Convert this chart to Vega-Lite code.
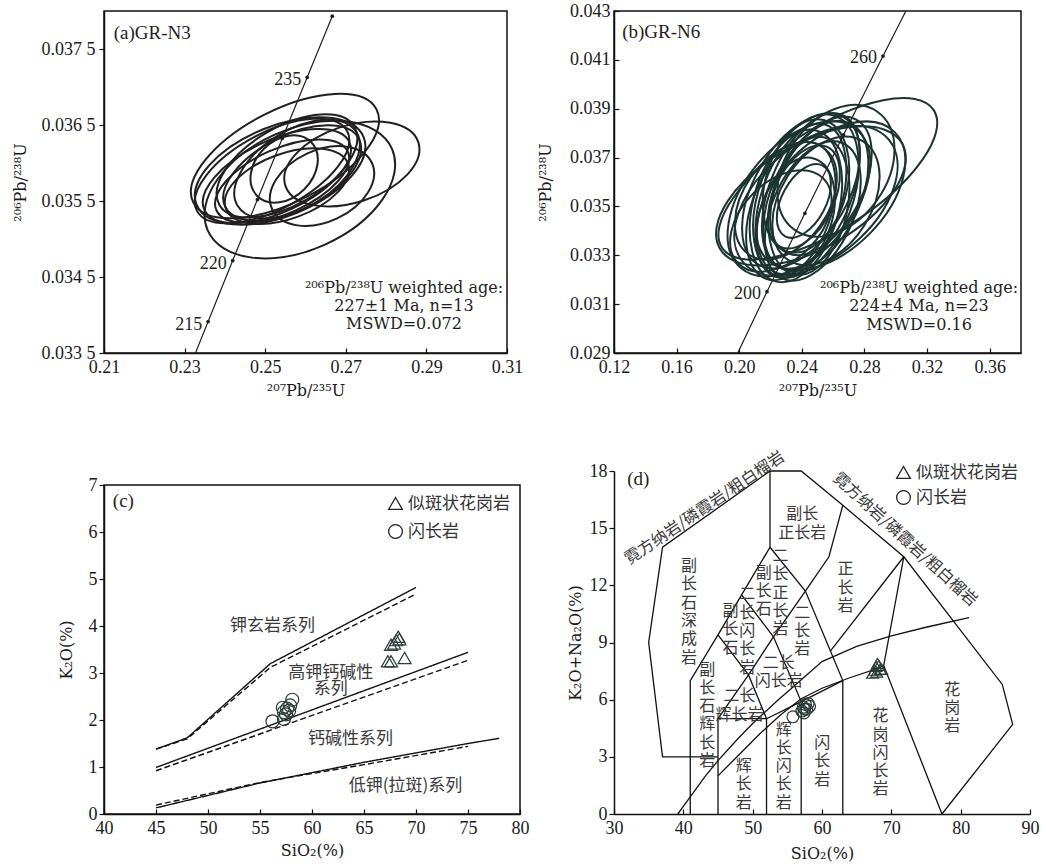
{
"$schema": "https://vega.github.io/schema/vega-lite/v6.json",
"background": "white",
"padding": {"left": 11, "top": 1, "right": 5, "bottom": 5},
"spacing": 6,
"config": {
  "font": "Liberation Serif",
  "view": {"stroke": "#111", "strokeWidth": 1.5},
  "axis": {"labelFont": "Liberation Serif", "titleFont": "Liberation Serif", "labelFontSize": 18, "titleFontSize": 18, "titleFontWeight": "normal", "labelColor": "#1a1a1a", "titleColor": "#1a1a1a", "domainColor": "#111", "domainWidth": 1.5, "tickColor": "#111", "tickWidth": 1.2, "grid": false, "labelFlush": false, "labelOverlap": false},
  "legend": {"title": null, "labelFont": "Noto Sans CJK SC", "labelFontSize": 17, "labelColor": "#333", "symbolStrokeWidth": 1.3, "symbolSize": 190, "rowPadding": 9, "padding": 0, "symbolStrokeColor": "#222", "symbolFillColor": "transparent"}
},
"datasets": {
  "ellA": [
    {"x":0.2549,"y":0.036092,"w":0.0510,"r":"0.45","tilt":-27},
    {"x":0.2715,"y":0.035987,"w":0.0347,"r":"0.55","tilt":-18},
    {"x":0.2586,"y":0.035650,"w":0.0500,"r":"0.60","tilt":-24},
    {"x":0.2517,"y":0.035895,"w":0.0422,"r":"0.45","tilt":-28},
    {"x":0.2529,"y":0.035829,"w":0.0397,"r":"0.45","tilt":-25},
    {"x":0.2554,"y":0.035961,"w":0.0387,"r":"0.50","tilt":-30},
    {"x":0.2567,"y":0.035868,"w":0.0372,"r":"0.50","tilt":-27},
    {"x":0.2542,"y":0.035763,"w":0.0357,"r":"0.45","tilt":-24},
    {"x":0.2579,"y":0.035921,"w":0.0347,"r":"0.55","tilt":-32},
    {"x":0.2537,"y":0.035895,"w":0.0447,"r":"0.50","tilt":-22},
    {"x":0.2554,"y":0.035697,"w":0.0323,"r":"0.50","tilt":-20},
    {"x":0.2547,"y":0.035921,"w":0.0189,"r":"0.75","tilt":-45},
    {"x":0.2641,"y":0.035697,"w":0.0273,"r":"0.65","tilt":-25}
  ],
  "ellB": [
    {"x":0.2566,"y":0.036129,"w":0.1613,"r":"0.40","tilt":-33},
    {"x":0.2458,"y":0.035431,"w":0.1344,"r":"0.50","tilt":-30},
    {"x":0.2490,"y":0.035226,"w":0.1216,"r":"0.60","tilt":-40},
    {"x":0.2586,"y":0.035431,"w":0.1152,"r":"0.60","tilt":-45},
    {"x":0.2426,"y":0.035431,"w":0.1088,"r":"0.55","tilt":-70},
    {"x":0.2394,"y":0.035226,"w":0.1024,"r":"0.50","tilt":-72},
    {"x":0.2458,"y":0.035637,"w":0.1050,"r":"0.50","tilt":-68},
    {"x":0.2362,"y":0.035020,"w":0.0998,"r":"0.55","tilt":-75},
    {"x":0.2490,"y":0.035431,"w":0.1024,"r":"0.55","tilt":-65},
    {"x":0.2330,"y":0.034815,"w":0.0922,"r":"0.55","tilt":-70},
    {"x":0.2522,"y":0.035842,"w":0.0960,"r":"0.55","tilt":-62},
    {"x":0.2394,"y":0.035637,"w":0.1088,"r":"0.55","tilt":-60},
    {"x":0.2445,"y":0.035020,"w":0.0896,"r":"0.55","tilt":-78},
    {"x":0.2298,"y":0.035226,"w":0.0832,"r":"0.65","tilt":-55},
    {"x":0.2554,"y":0.035226,"w":0.0896,"r":"0.65","tilt":-58},
    {"x":0.2362,"y":0.034610,"w":0.0768,"r":"0.60","tilt":-72},
    {"x":0.2426,"y":0.035842,"w":0.0870,"r":"0.60","tilt":-75},
    {"x":0.2470,"y":0.034815,"w":0.0947,"r":"0.55","tilt":-66},
    {"x":0.2381,"y":0.035308,"w":0.1152,"r":"0.60","tilt":-50},
    {"x":0.2413,"y":0.035226,"w":0.0512,"r":"0.55","tilt":-62},
    {"x":0.2413,"y":0.035390,"w":0.0704,"r":"0.55","tilt":-65},
    {"x":0.2618,"y":0.036458,"w":0.0922,"r":"0.70","tilt":-55},
    {"x":0.2266,"y":0.034404,"w":0.0768,"r":"0.65","tilt":-45}
  ],
  "conA": [
    {"age":212,"x":0.23219,"y":0.033433,"dot":false,"lab":""},
    {"age":215,"x":0.23584,"y":0.033914,"dot":true,"lab":"215"},
    {"age":220,"x":0.24194,"y":0.034717,"dot":true,"lab":"220"},
    {"age":225,"x":0.24807,"y":0.035519,"dot":true,"lab":""},
    {"age":230,"x":0.25423,"y":0.036323,"dot":true,"lab":""},
    {"age":235,"x":0.26042,"y":0.037127,"dot":true,"lab":"235"},
    {"age":240,"x":0.26664,"y":0.037932,"dot":true,"lab":""}
  ],
  "conB": [
    {"age":180,"x":0.19397,"y":0.028316,"dot":false,"lab":""},
    {"age":200,"x":0.21771,"y":0.031511,"dot":true,"lab":"200"},
    {"age":220,"x":0.24194,"y":0.034717,"dot":true,"lab":""},
    {"age":240,"x":0.26664,"y":0.037932,"dot":true,"lab":""},
    {"age":260,"x":0.29184,"y":0.041157,"dot":true,"lab":"260"},
    {"age":280,"x":0.31754,"y":0.044392,"dot":false,"lab":""}
  ],
  "annA": [
    {"x":0.28444,"y":0.034355,"t":"²⁰⁶Pb/²³⁸U weighted age:"},
    {"x":0.28444,"y":0.034118,"t":"227±1 Ma, n=13"},
    {"x":0.28444,"y":0.033882,"t":"MSWD=0.072"}
  ],
  "annB": [
    {"x":0.31488,"y":0.031641,"t":"²⁰⁶Pb/²³⁸U weighted age:"},
    {"x":0.31488,"y":0.030914,"t":"224±4 Ma, n=23"},
    {"x":0.31488,"y":0.030162,"t":"MSWD=0.16"}
  ],
  "linC": [
    {"g":"U","s":"solid","o":1,"x":45,"y":1.38},{"g":"U","s":"solid","o":2,"x":48,"y":1.62},{"g":"U","s":"solid","o":3,"x":56,"y":3.2},{"g":"U","s":"solid","o":4,"x":70,"y":4.82},
    {"g":"Ud","s":"dashed","o":1,"x":45,"y":1.38},{"g":"Ud","s":"dashed","o":2,"x":48,"y":1.6},{"g":"Ud","s":"dashed","o":3,"x":56,"y":3.12},{"g":"Ud","s":"dashed","o":4,"x":70,"y":4.68},
    {"g":"M","s":"solid","o":1,"x":45,"y":0.99},{"g":"M","s":"solid","o":2,"x":75,"y":3.44},
    {"g":"Md","s":"dashed","o":1,"x":45,"y":0.92},{"g":"Md","s":"dashed","o":2,"x":75,"y":3.27},
    {"g":"L","s":"solid","o":1,"x":45,"y":0.13},{"g":"L","s":"solid","o":2,"x":55,"y":0.66},{"g":"L","s":"solid","o":3,"x":65,"y":1.1},{"g":"L","s":"solid","o":4,"x":75,"y":1.5},{"g":"L","s":"solid","o":5,"x":78,"y":1.61},
    {"g":"Ld","s":"dashed","o":1,"x":45,"y":0.19},{"g":"Ld","s":"dashed","o":2,"x":55,"y":0.67},{"g":"Ld","s":"dashed","o":3,"x":65,"y":1.05},{"g":"Ld","s":"dashed","o":4,"x":75,"y":1.44}
  ],
  "labC": [
    {"x":56.2,"y":4.0,"t":"钾玄岩系列"},
    {"x":61.8,"y":3.0,"t":"高钾钙碱性"},
    {"x":61.8,"y":2.66,"t":"系列"},
    {"x":63.7,"y":1.6,"t":"钙碱性系列"},
    {"x":69.0,"y":0.6,"t":"低钾(拉斑)系列"}
  ],
  "ptsC": [
    {"x":67.3,"y":3.25,"rock":"似斑状花岗岩"},{"x":67.6,"y":3.25,"rock":"似斑状花岗岩"},{"x":67.6,"y":3.6,"rock":"似斑状花岗岩"},{"x":67.9,"y":3.63,"rock":"似斑状花岗岩"},
    {"x":68.1,"y":3.7,"rock":"似斑状花岗岩"},{"x":68.3,"y":3.77,"rock":"似斑状花岗岩"},{"x":68.4,"y":3.72,"rock":"似斑状花岗岩"},{"x":68.9,"y":3.32,"rock":"似斑状花岗岩"},
    {"x":56.2,"y":1.97,"rock":"闪长岩"},{"x":57.2,"y":2.26,"rock":"闪长岩"},{"x":57.3,"y":2.17,"rock":"闪长岩"},{"x":57.6,"y":2.24,"rock":"闪长岩"},{"x":57.9,"y":2.31,"rock":"闪长岩"},
    {"x":58.1,"y":2.43,"rock":"闪长岩"},{"x":57.3,"y":2.02,"rock":"闪长岩"},{"x":57.5,"y":2.12,"rock":"闪长岩"},{"x":57.8,"y":2.2,"rock":"闪长岩"}
  ],
  "linD": [
    {"g":"L1","o":1,"x":45,"y":3},{"g":"L1","o":2,"x":37,"y":3},{"g":"L1","o":3,"x":35,"y":9},{"g":"L1","o":4,"x":37,"y":14},{"g":"L1","o":5,"x":52.5,"y":18},{"g":"L1","o":6,"x":57,"y":18},{"g":"L1","o":7,"x":63,"y":16.2},{"g":"L1","o":8,"x":71.8,"y":13.5},{"g":"L1","o":9,"x":86,"y":6.8},{"g":"L1","o":10,"x":87.5,"y":4.7},{"g":"L1","o":11,"x":77.3,"y":0},
    {"g":"L2","o":1,"x":41,"y":0},{"g":"L2","o":2,"x":41,"y":7},{"g":"L2","o":3,"x":45,"y":9.4},{"g":"L2","o":4,"x":48.4,"y":11.5},{"g":"L2","o":5,"x":52.5,"y":14},{"g":"L2","o":6,"x":52.5,"y":18},
    {"g":"L3","o":1,"x":45,"y":0},{"g":"L3","o":2,"x":45,"y":5},{"g":"L3","o":3,"x":52,"y":5},
    {"g":"L4","o":1,"x":52,"y":0},{"g":"L4","o":2,"x":52,"y":5},{"g":"L4","o":3,"x":49.4,"y":7.3},{"g":"L4","o":4,"x":45,"y":9.4},
    {"g":"L5","o":1,"x":57,"y":0},{"g":"L5","o":2,"x":57,"y":5.9},{"g":"L5","o":3,"x":53,"y":9.3},{"g":"L5","o":4,"x":48.4,"y":11.5},
    {"g":"L6","o":1,"x":63,"y":0},{"g":"L6","o":2,"x":63,"y":7},{"g":"L6","o":3,"x":57.6,"y":11.7},{"g":"L6","o":4,"x":52.5,"y":14},
    {"g":"L7","o":1,"x":45,"y":5},{"g":"L7","o":2,"x":49.4,"y":7.3},{"g":"L7","o":3,"x":53,"y":9.3},{"g":"L7","o":4,"x":57.6,"y":11.7},{"g":"L7","o":5,"x":61,"y":13.5},{"g":"L7","o":6,"x":63,"y":16.2},
    {"g":"L8","o":1,"x":61.2,"y":8.55},{"g":"L8","o":2,"x":71.8,"y":13.5},{"g":"L8","o":3,"x":68.9,"y":7.8},{"g":"L8","o":4,"x":77.3,"y":0},
    {"g":"L9","o":1,"x":39.2,"y":0},{"g":"L9","o":2,"x":40,"y":0.4},{"g":"L9","o":3,"x":43.2,"y":2},{"g":"L9","o":4,"x":45,"y":2.8},{"g":"L9","o":5,"x":48,"y":4},{"g":"L9","o":6,"x":50,"y":4.75},{"g":"L9","o":7,"x":53.7,"y":6},{"g":"L9","o":8,"x":55,"y":6.4},{"g":"L9","o":9,"x":60,"y":8},{"g":"L9","o":10,"x":65,"y":8.8},{"g":"L9","o":11,"x":70,"y":9.35},{"g":"L9","o":12,"x":75,"y":9.8},{"g":"L9","o":13,"x":81.2,"y":10.3},
    {"g":"L10","o":1,"x":45,"y":2},{"g":"L10","o":2,"x":48,"y":3.1},{"g":"L10","o":3,"x":51,"y":4.2},{"g":"L10","o":4,"x":54,"y":5.2},{"g":"L10","o":5,"x":57,"y":6.05},{"g":"L10","o":6,"x":60,"y":6.6},{"g":"L10","o":7,"x":64,"y":7.15},{"g":"L10","o":8,"x":68.5,"y":7.7},
    {"g":"L11","o":1,"x":52,"y":5},{"g":"L11","o":2,"x":57,"y":5.9},{"g":"L11","o":3,"x":63,"y":7}
  ],
  "labD": [
    {"x":40.8,"y":13.43,"t":"副\n长\n石\n深\n成\n岩"},
    {"x":43.44,"y":8.0,"t":"副\n长\n石\n辉\n长\n岩"},
    {"x":57.14,"y":10.98,"t":"二\n长\n岩"},
    {"x":63.39,"y":13.26,"t":"正\n长\n岩"},
    {"x":48.72,"y":2.93,"t":"辉\n长\n岩"},
    {"x":54.49,"y":4.85,"t":"辉\n长\n闪\n长\n岩"},
    {"x":60.03,"y":4.15,"t":"闪\n长\n岩"},
    {"x":68.44,"y":5.55,"t":"花\n岗\n闪\n长\n岩"},
    {"x":78.78,"y":6.95,"t":"花\n岗\n岩"},
    {"x":46.8,"y":11.07,"t":"副\n长\n石"},
    {"x":49.21,"y":11.94,"t":"二\n长\n闪\n长\n岩"},
    {"x":51.6,"y":13.08,"t":"副\n长\n石"},
    {"x":54.0,"y":13.95,"t":"二\n长\n正\n长\n岩"},
    {"x":53.77,"y":8.35,"t":"二长\n闪长岩"},
    {"x":48.1,"y":6.6,"t":"二长\n辉长岩"},
    {"x":57.14,"y":16.15,"t":"副长\n正长岩"}
  ],
  "ptsD": [
    {"x":67.3,"y":7.4,"rock":"似斑状花岗岩"},{"x":67.6,"y":7.55,"rock":"似斑状花岗岩"},{"x":67.8,"y":7.75,"rock":"似斑状花岗岩"},{"x":68.0,"y":7.9,"rock":"似斑状花岗岩"},
    {"x":68.2,"y":7.8,"rock":"似斑状花岗岩"},{"x":68.4,"y":7.6,"rock":"似斑状花岗岩"},{"x":68.6,"y":7.6,"rock":"似斑状花岗岩"},{"x":67.9,"y":7.45,"rock":"似斑状花岗岩"},
    {"x":55.8,"y":5.1,"rock":"闪长岩"},{"x":57.1,"y":5.4,"rock":"闪长岩"},{"x":57.3,"y":5.6,"rock":"闪长岩"},{"x":57.5,"y":5.5,"rock":"闪长岩"},{"x":57.6,"y":5.75,"rock":"闪长岩"},
    {"x":57.8,"y":5.5,"rock":"闪长岩"},{"x":58.0,"y":5.8,"rock":"闪长岩"},{"x":58.2,"y":5.65,"rock":"闪长岩"},{"x":57.4,"y":5.3,"rock":"闪长岩"}
  ]
},
"resolve": {"scale": {"shape": "independent", "size": "independent", "x": "independent", "y": "independent", "strokeDash": "independent"}, "legend": {"shape": "independent"}},
"hconcat": [
 {
  "vconcat": [
   {
    "width": 403, "height": 342,
    "layer": [
     {
      "data": {"name": "ellA"},
      "mark": {"type": "point", "filled": false, "stroke": "#231f20", "strokeWidth": 2, "opacity": 1},
      "encoding": {
        "x": {"field": "x", "type": "quantitative", "scale": {"domain": [0.21, 0.31], "nice": false, "zero": false},
              "axis": {"values": [0.21,0.23,0.25,0.27,0.29,0.31], "format": ".2f", "title": "²⁰⁷Pb/²³⁵U", "titleFont": "DejaVu Serif", "titleFontSize": 16, "tickSize": -5, "labelPadding": 10, "titlePadding": 6}},
        "y": {"field": "y", "type": "quantitative", "scale": {"domain": [0.0335, 0.038], "nice": false, "zero": false},
              "axis": {"values": [0.0335,0.0345,0.0355,0.0365,0.0375], "labelExpr": "substring(format(datum.value,'.4f'),0,5) + ' ' + substring(format(datum.value,'.4f'),5)", "title": "²⁰⁶Pb/²³⁸U", "titleFont": "DejaVu Serif", "titleFontSize": 16, "tickSize": 5, "labelPadding": 4, "titlePadding": 13}},
        "shape": {"field": "r", "type": "nominal", "legend": null, "scale": {"domain": ["0.40","0.45","0.50","0.55","0.60","0.65","0.70","0.75"], "range": [
          "M1,0C1,0.2209 0.5523,0.4 0,0.4C-0.5523,0.4 -1,0.2209 -1,0C-1,-0.2209 -0.5523,-0.4 0,-0.4C0.5523,-0.4 1,-0.2209 1,0Z",
          "M1,0C1,0.2485 0.5523,0.45 0,0.45C-0.5523,0.45 -1,0.2485 -1,0C-1,-0.2485 -0.5523,-0.45 0,-0.45C0.5523,-0.45 1,-0.2485 1,0Z",
          "M1,0C1,0.2762 0.5523,0.5 0,0.5C-0.5523,0.5 -1,0.2762 -1,0C-1,-0.2762 -0.5523,-0.5 0,-0.5C0.5523,-0.5 1,-0.2762 1,0Z",
          "M1,0C1,0.3038 0.5523,0.55 0,0.55C-0.5523,0.55 -1,0.3038 -1,0C-1,-0.3038 -0.5523,-0.55 0,-0.55C0.5523,-0.55 1,-0.3038 1,0Z",
          "M1,0C1,0.3314 0.5523,0.6 0,0.6C-0.5523,0.6 -1,0.3314 -1,0C-1,-0.3314 -0.5523,-0.6 0,-0.6C0.5523,-0.6 1,-0.3314 1,0Z",
          "M1,0C1,0.359 0.5523,0.65 0,0.65C-0.5523,0.65 -1,0.359 -1,0C-1,-0.359 -0.5523,-0.65 0,-0.65C0.5523,-0.65 1,-0.359 1,0Z",
          "M1,0C1,0.3866 0.5523,0.7 0,0.7C-0.5523,0.7 -1,0.3866 -1,0C-1,-0.3866 -0.5523,-0.7 0,-0.7C0.5523,-0.7 1,-0.3866 1,0Z",
          "M1,0C1,0.4142 0.5523,0.75 0,0.75C-0.5523,0.75 -1,0.4142 -1,0C-1,-0.4142 -0.5523,-0.75 0,-0.75C0.5523,-0.75 1,-0.4142 1,0Z"]}},
        "size": {"field": "w", "type": "quantitative", "legend": null, "scale": {"type": "pow", "exponent": 2, "domain": [0, 0.1], "range": [0, 162409], "nice": false, "zero": false}},
        "angle": {"field": "tilt", "type": "quantitative", "scale": null}
      }
     },
     {
      "data": {"name": "conA"},
      "mark": {"type": "line", "color": "#231f20", "strokeWidth": 1.2, "clip": true},
      "encoding": {"x": {"field": "x", "type": "quantitative"}, "y": {"field": "y", "type": "quantitative"}, "order": {"field": "age", "type": "quantitative"}}
     },
     {
      "data": {"name": "conA"},
      "transform": [{"filter": "datum.dot"}],
      "mark": {"type": "circle", "color": "#231f20", "size": 14, "opacity": 1},
      "encoding": {"x": {"field": "x", "type": "quantitative"}, "y": {"field": "y", "type": "quantitative"}}
     },
     {
      "data": {"name": "conA"},
      "transform": [{"filter": "datum.lab != ''"}],
      "mark": {"type": "text", "align": "right", "baseline": "middle", "dx": -6, "dy": 3, "fontSize": 18, "font": "Liberation Serif", "color": "#231f20"},
      "encoding": {"x": {"field": "x", "type": "quantitative"}, "y": {"field": "y", "type": "quantitative"}, "text": {"field": "lab"}}
     },
     {
      "data": {"name": "annA"},
      "mark": {"type": "text", "align": "center", "baseline": "middle", "fontSize": 16, "font": "DejaVu Serif", "color": "#231f20"},
      "encoding": {"x": {"field": "x", "type": "quantitative"}, "y": {"field": "y", "type": "quantitative"}, "text": {"field": "t"}}
     },
     {
      "data": {"values": [{"x": 0.2124, "y": 0.037715, "t": "(a)GR-N3"}]},
      "mark": {"type": "text", "align": "left", "baseline": "middle", "fontSize": 19, "font": "Liberation Serif", "color": "#231f20"},
      "encoding": {"x": {"field": "x", "type": "quantitative"}, "y": {"field": "y", "type": "quantitative"}, "text": {"field": "t"}}
     }
    ]
   },
   {
    "width": 416, "height": 329,
    "layer": [
     {
      "data": {"name": "linC"},
      "mark": {"type": "line", "color": "#111", "strokeWidth": 1.4},
      "encoding": {
        "x": {"field": "x", "type": "quantitative", "scale": {"domain": [40, 80], "nice": false, "zero": false},
              "axis": {"values": [40,45,50,55,60,65,70,75,80], "title": "SiO₂(%)", "titleFont": "DejaVu Serif", "titleFontSize": 16, "tickSize": -5, "labelPadding": 10, "titlePadding": 5}},
        "y": {"field": "y", "type": "quantitative", "scale": {"domain": [0, 7], "nice": false, "zero": false},
              "axis": {"values": [0,1,2,3,4,5,6,7], "title": "K₂O(%)", "titleFont": "DejaVu Serif", "titleFontSize": 16, "tickSize": 5, "labelPadding": 2, "titlePadding": 14}},
        "detail": {"field": "g"},
        "order": {"field": "o", "type": "quantitative"},
        "strokeDash": {"field": "s", "type": "nominal", "legend": null, "scale": {"domain": ["solid", "dashed"], "range": [[1, 0], [6, 3]]}}
      }
     },
     {
      "data": {"name": "labC"},
      "mark": {"type": "text", "align": "center", "baseline": "middle", "fontSize": 17, "font": "Noto Sans CJK SC", "color": "#3a3a3a"},
      "encoding": {"x": {"field": "x", "type": "quantitative"}, "y": {"field": "y", "type": "quantitative"}, "text": {"field": "t"}}
     },
     {
      "data": {"values": [{"x": 40.85, "y": 6.67, "t": "(c)"}]},
      "mark": {"type": "text", "align": "left", "baseline": "middle", "fontSize": 19, "font": "Liberation Serif", "color": "#231f20"},
      "encoding": {"x": {"field": "x", "type": "quantitative"}, "y": {"field": "y", "type": "quantitative"}, "text": {"field": "t"}}
     },
     {
      "data": {"name": "ptsC"},
      "mark": {"type": "point", "filled": false, "stroke": "#2b3b38", "strokeWidth": 1.2, "opacity": 1, "size": 170},
      "encoding": {
        "x": {"field": "x", "type": "quantitative"}, "y": {"field": "y", "type": "quantitative"},
        "shape": {"field": "rock", "type": "nominal", "scale": {"domain": ["似斑状花岗岩", "闪长岩"], "range": ["triangle-up", "circle"]},
                  "legend": {"orient": "top-right", "offset": 10}}
      }
     }
    ]
   }
  ],
  "spacing": 132,
  "bounds": "flush",
  "resolve": {"scale": {"shape": "independent", "size": "independent", "x": "independent", "y": "independent", "strokeDash": "independent"}, "legend": {"shape": "independent"}}
 },
 {
  "vconcat": [
   {
    "width": 407, "height": 342,
    "layer": [
     {
      "data": {"name": "ellB"},
      "mark": {"type": "point", "filled": false, "stroke": "#1c3330", "strokeWidth": 2, "opacity": 1},
      "encoding": {
        "x": {"field": "x", "type": "quantitative", "scale": {"domain": [0.12, 0.38], "nice": false, "zero": false},
              "axis": {"values": [0.12,0.16,0.20,0.24,0.28,0.32,0.36], "format": ".2f", "title": "²⁰⁷Pb/²³⁵U", "titleFont": "DejaVu Serif", "titleFontSize": 16, "tickSize": -5, "labelPadding": 10, "titlePadding": 6}},
        "y": {"field": "y", "type": "quantitative", "scale": {"domain": [0.029, 0.043], "nice": false, "zero": false},
              "axis": {"values": [0.029,0.031,0.033,0.035,0.037,0.039,0.041,0.043], "format": ".3f", "title": "²⁰⁶Pb/²³⁸U", "titleFont": "DejaVu Serif", "titleFontSize": 16, "tickSize": -5, "labelPadding": 9, "titlePadding": 16}},
        "shape": {"field": "r", "type": "nominal", "legend": null, "scale": {"domain": ["0.40","0.45","0.50","0.55","0.60","0.65","0.70","0.75"], "range": [
          "M1,0C1,0.2209 0.5523,0.4 0,0.4C-0.5523,0.4 -1,0.2209 -1,0C-1,-0.2209 -0.5523,-0.4 0,-0.4C0.5523,-0.4 1,-0.2209 1,0Z",
          "M1,0C1,0.2485 0.5523,0.45 0,0.45C-0.5523,0.45 -1,0.2485 -1,0C-1,-0.2485 -0.5523,-0.45 0,-0.45C0.5523,-0.45 1,-0.2485 1,0Z",
          "M1,0C1,0.2762 0.5523,0.5 0,0.5C-0.5523,0.5 -1,0.2762 -1,0C-1,-0.2762 -0.5523,-0.5 0,-0.5C0.5523,-0.5 1,-0.2762 1,0Z",
          "M1,0C1,0.3038 0.5523,0.55 0,0.55C-0.5523,0.55 -1,0.3038 -1,0C-1,-0.3038 -0.5523,-0.55 0,-0.55C0.5523,-0.55 1,-0.3038 1,0Z",
          "M1,0C1,0.3314 0.5523,0.6 0,0.6C-0.5523,0.6 -1,0.3314 -1,0C-1,-0.3314 -0.5523,-0.6 0,-0.6C0.5523,-0.6 1,-0.3314 1,0Z",
          "M1,0C1,0.359 0.5523,0.65 0,0.65C-0.5523,0.65 -1,0.359 -1,0C-1,-0.359 -0.5523,-0.65 0,-0.65C0.5523,-0.65 1,-0.359 1,0Z",
          "M1,0C1,0.3866 0.5523,0.7 0,0.7C-0.5523,0.7 -1,0.3866 -1,0C-1,-0.3866 -0.5523,-0.7 0,-0.7C0.5523,-0.7 1,-0.3866 1,0Z",
          "M1,0C1,0.4142 0.5523,0.75 0,0.75C-0.5523,0.75 -1,0.4142 -1,0C-1,-0.4142 -0.5523,-0.75 0,-0.75C0.5523,-0.75 1,-0.4142 1,0Z"]}},
        "size": {"field": "w", "type": "quantitative", "legend": null, "scale": {"type": "pow", "exponent": 2, "domain": [0, 0.26], "range": [0, 165649], "nice": false, "zero": false}},
        "angle": {"field": "tilt", "type": "quantitative", "scale": null}
      }
     },
     {
      "data": {"name": "conB"},
      "mark": {"type": "line", "color": "#231f20", "strokeWidth": 1.2, "clip": true},
      "encoding": {"x": {"field": "x", "type": "quantitative"}, "y": {"field": "y", "type": "quantitative"}, "order": {"field": "age", "type": "quantitative"}}
     },
     {
      "data": {"name": "conB"},
      "transform": [{"filter": "datum.dot"}],
      "mark": {"type": "circle", "color": "#231f20", "size": 14, "opacity": 1},
      "encoding": {"x": {"field": "x", "type": "quantitative"}, "y": {"field": "y", "type": "quantitative"}}
     },
     {
      "data": {"name": "conB"},
      "transform": [{"filter": "datum.lab != ''"}],
      "mark": {"type": "text", "align": "right", "baseline": "middle", "dx": -6, "dy": 2, "fontSize": 18, "font": "Liberation Serif", "color": "#231f20"},
      "encoding": {"x": {"field": "x", "type": "quantitative"}, "y": {"field": "y", "type": "quantitative"}, "text": {"field": "lab"}}
     },
     {
      "data": {"name": "annB"},
      "mark": {"type": "text", "align": "center", "baseline": "middle", "fontSize": 16, "font": "DejaVu Serif", "color": "#231f20"},
      "encoding": {"x": {"field": "x", "type": "quantitative"}, "y": {"field": "y", "type": "quantitative"}, "text": {"field": "t"}}
     },
     {
      "data": {"values": [{"x": 0.12525, "y": 0.042138, "t": "(b)GR-N6"}]},
      "mark": {"type": "text", "align": "left", "baseline": "middle", "fontSize": 19, "font": "Liberation Serif", "color": "#231f20"},
      "encoding": {"x": {"field": "x", "type": "quantitative"}, "y": {"field": "y", "type": "quantitative"}, "text": {"field": "t"}}
     }
    ]
   },
   {
    "width": 416, "height": 343,
    "view": {"stroke": null},
    "layer": [
     {
      "data": {"name": "linD"},
      "mark": {"type": "line", "color": "#111", "strokeWidth": 1.3},
      "encoding": {
        "x": {"field": "x", "type": "quantitative", "scale": {"domain": [30, 90], "nice": false, "zero": false},
              "axis": {"values": [30,40,50,60,70,80,90], "title": "SiO₂(%)", "titleFont": "DejaVu Serif", "titleFontSize": 16, "tickSize": -5, "labelPadding": 10, "titlePadding": 8}},
        "y": {"field": "y", "type": "quantitative", "scale": {"domain": [0, 18], "nice": false, "zero": false},
              "axis": {"values": [0,3,6,9,12,15,18], "title": "K₂O+Na₂O(%)", "titleFont": "DejaVu Serif", "titleFontSize": 16, "tickSize": 5, "labelPadding": 2, "titlePadding": 6}},
        "detail": {"field": "g"},
        "order": {"field": "o", "type": "quantitative"}
      }
     },
     {
      "data": {"name": "labD"},
      "mark": {"type": "text", "align": "center", "baseline": "top", "lineBreak": "\n", "lineHeight": 18.3, "fontSize": 16, "font": "Noto Sans CJK SC", "color": "#3a3a3a"},
      "encoding": {"x": {"field": "x", "type": "quantitative"}, "y": {"field": "y", "type": "quantitative"}, "text": {"field": "t"}}
     },
     {
      "data": {"values": [{"x": 43.05, "y": 16.06, "t": "霓方纳岩/磷霞岩/粗白榴岩"}]},
      "mark": {"type": "text", "align": "center", "baseline": "middle", "angle": 326, "fontSize": 16, "font": "Noto Sans CJK SC", "color": "#3a3a3a"},
      "encoding": {"x": {"field": "x", "type": "quantitative"}, "y": {"field": "y", "type": "quantitative"}, "text": {"field": "t"}}
     },
     {
      "data": {"values": [{"x": 72.0, "y": 14.41, "t": "霓方纳岩/磷霞岩/粗白榴岩"}]},
      "mark": {"type": "text", "align": "center", "baseline": "middle", "angle": 42.5, "fontSize": 16, "font": "Noto Sans CJK SC", "color": "#3a3a3a"},
      "encoding": {"x": {"field": "x", "type": "quantitative"}, "y": {"field": "y", "type": "quantitative"}, "text": {"field": "t"}}
     },
     {
      "data": {"values": [{"x": 31.9, "y": 17.56, "t": "(d)"}]},
      "mark": {"type": "text", "align": "left", "baseline": "middle", "fontSize": 19, "font": "Liberation Serif", "color": "#231f20"},
      "encoding": {"x": {"field": "x", "type": "quantitative"}, "y": {"field": "y", "type": "quantitative"}, "text": {"field": "t"}}
     },
     {
      "data": {"name": "ptsD"},
      "mark": {"type": "point", "filled": false, "stroke": "#2b3b38", "strokeWidth": 1.2, "opacity": 1, "size": 140},
      "encoding": {
        "x": {"field": "x", "type": "quantitative"}, "y": {"field": "y", "type": "quantitative"},
        "shape": {"field": "rock", "type": "nominal", "scale": {"domain": ["似斑状花岗岩", "闪长岩"], "range": ["triangle-up", "circle"]},
                  "legend": {"orient": "none", "legendX": 281, "legendY": -7, "rowPadding": 6}}
      }
     }
    ]
   }
  ],
  "spacing": 118,
  "bounds": "flush",
  "resolve": {"scale": {"shape": "independent", "size": "independent", "x": "independent", "y": "independent", "strokeDash": "independent"}, "legend": {"shape": "independent"}}
 }
]
}
